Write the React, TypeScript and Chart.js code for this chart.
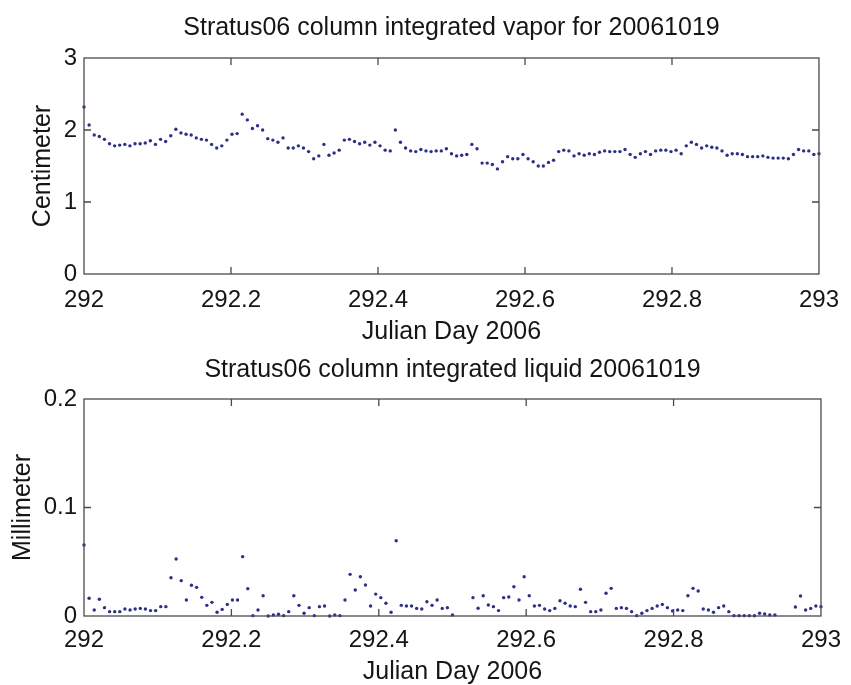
import React, { useEffect, useRef } from 'react';
import { Chart, registerables } from 'chart.js';

Chart.register(...registerables);

// ---- data ----
const sampleStartDay = 292;
const sampleStepDays = 10 / 1440; // one sample every 10 minutes

const vaporCm: (number | null)[] = [
  2.32, 2.07, 1.93, 1.91, 1.87, 1.81, 1.78, 1.79, 1.80, 1.78,
  1.81, 1.81, 1.82, 1.85, 1.80, 1.87, 1.84, 1.92, 2.01, 1.96,
  1.94, 1.93, 1.89, 1.87, 1.86, 1.80, 1.75, 1.78, 1.86, 1.94,
  1.95, 2.22, 2.14, 2.02, 2.06, 2.00, 1.88, 1.86, 1.83, 1.89,
  1.75, 1.75, 1.78, 1.75, 1.70, 1.60, 1.64, 1.80, 1.65, 1.68,
  1.72, 1.86, 1.87, 1.84, 1.81, 1.83, 1.79, 1.83, 1.78, 1.72,
  1.71, 2.00, 1.83, 1.75, 1.71, 1.70, 1.73, 1.71, 1.70, 1.71,
  1.71, 1.74, 1.67, 1.64,
  1.65, 1.66, 1.80, 1.74, 1.54, 1.54, 1.52, 1.46, 1.56, 1.63,
  1.60, 1.60, 1.66, 1.60, 1.56, 1.50, 1.50, 1.55, 1.58, 1.70,
  1.72, 1.71, 1.64, 1.67, 1.65, 1.67, 1.66, 1.69, 1.71, 1.70,
  1.70, 1.70, 1.73, 1.66, 1.62, 1.67, 1.70, 1.66, 1.71, 1.72,
  1.72, 1.70, 1.72, 1.67, 1.78, 1.83, 1.80, 1.75, 1.78, 1.76,
  1.75, 1.71, 1.65, 1.67, 1.67, 1.66, 1.63, 1.63, 1.63, 1.64,
  1.62, 1.61, 1.61, 1.61, 1.60, 1.66, 1.73, 1.71, 1.71, 1.66,
  1.67,
];

const liquidMm: (number | null)[] = [
  0.0654, 0.0163, 0.0055, 0.0154, 0.0077, 0.004, 0.004, 0.004, 0.0064, 0.0055,
  0.0064, 0.007, 0.0064, 0.005, 0.005, 0.0086, 0.0086, 0.0353, 0.0525, 0.0326,
  0.0147, 0.0283, 0.0264, 0.0172, 0.0098, 0.0126, 0.0034, 0.0061, 0.0107, 0.0147,
  0.0147, 0.0547, 0.0252, 0.0003, 0.0055, 0.0187, 0.0, 0.001, 0.0016, 0.0003,
  0.004, 0.0187, 0.0098, 0.0025, 0.0077, 0.0003, 0.0086, 0.0092, 0.0, 0.001,
  0.0003, 0.0147, 0.0384, 0.024, 0.0362, 0.0286, 0.0092, 0.0202, 0.0169, 0.0117,
  0.0034, 0.0694, 0.0098, 0.0092, 0.0092, 0.007, 0.0064, 0.0132, 0.0098, 0.0147,
  0.007, 0.0077, 0.001,
  null, null, null,
  0.0169, 0.0071, 0.0187, 0.0101, 0.0086, 0.005, 0.0169, 0.0175, 0.027, 0.0147,
  0.0362, 0.0187, 0.0092, 0.0098, 0.0064, 0.005, 0.007, 0.0141, 0.0117, 0.0092,
  0.0086, 0.0246, 0.0126, 0.004, 0.004, 0.0055, 0.0209, 0.0255, 0.007, 0.0077,
  0.007, 0.004, 0.0003, 0.0025, 0.005, 0.007, 0.0092, 0.0107, 0.0077, 0.0047,
  0.0055, 0.005, 0.0187, 0.0255, 0.023, 0.0064, 0.0055, 0.0034, 0.0077, 0.0092,
  0.004, 0.0003, 0.0003, 0.0003, 0.0003, 0.0002, 0.0025, 0.0019, 0.001, 0.001,
  null, null, null,
  0.0083, 0.0184, 0.0055, 0.007, 0.0092, 0.0086,
];

const xTickValues = [292, 292.2, 292.4, 292.6, 292.8, 293];
const xTickLabels = ['292', '292.2', '292.4', '292.6', '292.8', '293'];
const vaporTickValues = [0, 1, 2, 3];
const vaporTickLabels = ['0', '1', '2', '3'];
const liquidTickValues = [0, 0.1, 0.2];
const liquidTickLabels = ['0', '0.1', '0.2'];

const vaporTitle = 'Stratus06 column integrated vapor for 20061019';
const liquidTitle = 'Stratus06 column integrated liquid 20061019';
const xAxisTitle = 'Julian Day 2006';
const vaporAxisTitle = 'Centimeter';
const liquidAxisTitle = 'Millimeter';

// ---- styling ----
const FONT = "'Liberation Sans', Arial, Helvetica, sans-serif";
const TEXT = '#151515';
const DOT = '#2c2f85';

const framePlugin = {
  id: 'matlabFrame',
  afterDraw(chart: any) {
    const { ctx, chartArea: a, scales } = chart;
    ctx.save();
    ctx.strokeStyle = '#4a4a4a';
    ctx.lineWidth = 1.3;
    ctx.strokeRect(a.left, a.top, a.right - a.left, a.bottom - a.top);
    const tl = 7;
    ctx.beginPath();
    scales.x.ticks.forEach((t: any) => {
      const px = scales.x.getPixelForValue(t.value);
      if (px <= a.left + 1 || px >= a.right - 1) return;
      ctx.moveTo(px, a.bottom);
      ctx.lineTo(px, a.bottom - tl);
      ctx.moveTo(px, a.top);
      ctx.lineTo(px, a.top + tl);
    });
    scales.y.ticks.forEach((t: any) => {
      const py = scales.y.getPixelForValue(t.value);
      if (py <= a.top + 1 || py >= a.bottom - 1) return;
      ctx.moveTo(a.left, py);
      ctx.lineTo(a.left + tl, py);
      ctx.moveTo(a.right, py);
      ctx.lineTo(a.right - tl, py);
    });
    ctx.stroke();
    ctx.restore();
  },
};

type PanelSpec = {
  values: (number | null)[];
  title: string;
  yTitle: string;
  yTickValues: number[];
  yTickLabels: string[];
  yMax: number;
  titlePad: { top: number; bottom: number };
  xAxisHeight: number;
  xTickPad: number;
  xTitlePadBottom: number;
  yTitlePadTop: number;
};

function buildConfig(p: PanelSpec): any {
  const points = p.values
    .map((v, i) => ({ x: sampleStartDay + i * sampleStepDays, y: v }))
    .filter((d) => d.y !== null);
  return {
    type: 'scatter',
    data: {
      datasets: [
        {
          data: points,
          showLine: false,
          pointRadius: 1.7,
          pointBorderWidth: 0,
          pointBackgroundColor: DOT,
          pointBorderColor: DOT,
          clip: false,
        },
      ],
    },
    options: {
      responsive: false,
      animation: false,
      events: [],
      layout: { padding: { left: 0, right: 26, top: 0, bottom: 0 }, autoPadding: false },
      plugins: {
        legend: { display: false },
        tooltip: { enabled: false },
        title: {
          display: true,
          fullSize: false,
          text: p.title,
          color: TEXT,
          font: { family: FONT, size: 25, weight: 'normal' },
          padding: p.titlePad,
        },
      },
      scales: {
        x: {
          type: 'linear',
          min: 292,
          max: 293,
          grid: { display: false, drawTicks: false },
          border: { display: false },
          afterBuildTicks: (s: any) => {
            s.ticks = xTickValues.map((v) => ({ value: v }));
          },
          afterFit: (s: any) => {
            s.height = p.xAxisHeight;
          },
          ticks: {
            autoSkip: false,
            maxRotation: 0,
            padding: p.xTickPad,
            color: TEXT,
            font: { family: FONT, size: 24 },
            callback: (_v: any, i: number) => xTickLabels[i],
          },
          title: {
            display: true,
            text: xAxisTitle,
            color: TEXT,
            font: { family: FONT, size: 25 },
            padding: { top: 0, bottom: p.xTitlePadBottom },
          },
        },
        y: {
          type: 'linear',
          min: 0,
          max: p.yMax,
          grid: { display: false, drawTicks: false },
          border: { display: false },
          afterBuildTicks: (s: any) => {
            s.ticks = p.yTickValues.map((v) => ({ value: v }));
          },
          afterFit: (s: any) => {
            s.width = 84;
          },
          ticks: {
            padding: 7,
            color: TEXT,
            font: { family: FONT, size: 24 },
            callback: (_v: any, i: number) => p.yTickLabels[i],
          },
          title: {
            display: true,
            text: p.yTitle,
            color: TEXT,
            font: { family: FONT, size: 25 },
            padding: { top: p.yTitlePadTop, bottom: 0 },
          },
        },
      },
    },
    plugins: [framePlugin],
  };
}

function Panel({ spec, top, height }: { spec: PanelSpec; top: number; height: number }) {
  const ref = useRef<HTMLCanvasElement | null>(null);
  useEffect(() => {
    if (!ref.current) return;
    const chart = new Chart(ref.current, buildConfig(spec));
    return () => chart.destroy();
  }, [spec]);
  return (
    <canvas
      ref={ref}
      width={851}
      height={height}
      style={{ position: 'absolute', left: 0, top, width: 851, height, display: 'block' }}
    />
  );
}

const vaporSpec: PanelSpec = {
  values: vaporCm,
  title: vaporTitle,
  yTitle: vaporAxisTitle,
  yTickValues: vaporTickValues,
  yTickLabels: vaporTickLabels,
  yMax: 3,
  titlePad: { top: 13, bottom: 15 },
  xAxisHeight: 76,
  xTickPad: 12,
  xTitlePadBottom: 3,
  yTitlePadTop: 28,
};

const liquidSpec: PanelSpec = {
  values: liquidMm,
  title: liquidTitle,
  yTitle: liquidAxisTitle,
  yTickValues: liquidTickValues,
  yTickLabels: liquidTickLabels,
  yMax: 0.2,
  titlePad: { top: 5, bottom: 14 },
  xAxisHeight: 74,
  xTickPad: 10,
  xTitlePadBottom: 3,
  yTitlePadTop: 8,
};

export default function App() {
  return (
    <div
      style={{
        position: 'absolute',
        left: 0,
        top: 0,
        width: 851,
        height: 685,
        overflow: 'hidden',
        background: '#ffffff',
      }}
    >
      <Panel spec={vaporSpec} top={0} height={350} />
      <Panel spec={liquidSpec} top={350} height={340} />
    </div>
  );
}
